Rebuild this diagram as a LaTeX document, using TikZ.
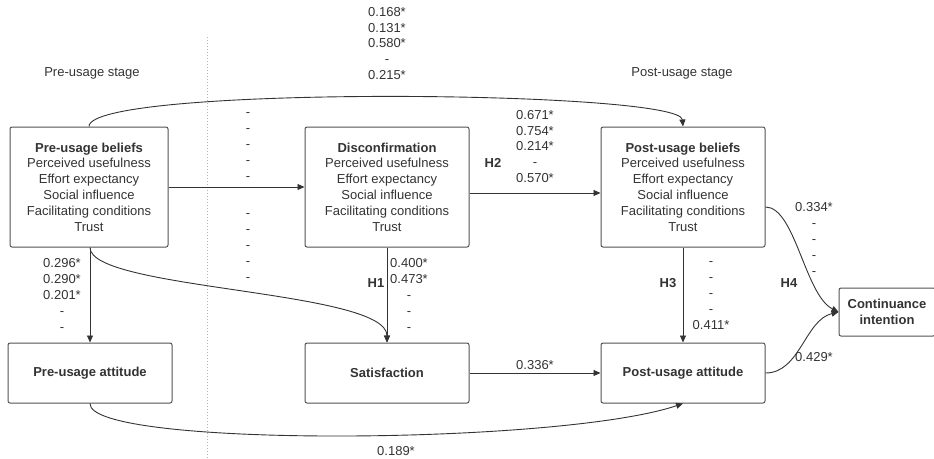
\documentclass[tikz,border=0pt]{standalone}
\usepackage{fontspec}
\setmainfont{Liberation Sans}
\usetikzlibrary{arrows.meta}
\definecolor{ink}{HTML}{333333}
\begin{document}
\begin{tikzpicture}[x=1pt,y=-1pt,font=\fontsize{13}{15.8}\selectfont,text=ink,
    box/.style={draw=ink!85,line width=1pt,rounded corners=2pt,minimum width=164pt,
      minimum height=120pt,align=center},
    smallbox/.style={box,minimum height=60pt},
    val/.style={align=center,inner sep=0pt},
    hyp/.style={inner sep=0pt,font=\fontsize{13}{15.8}\selectfont\bfseries},
    link/.style={draw=ink,line width=0.9pt,-{Triangle[length=7pt,width=6pt]}}]
  \useasboundingbox (0,0) rectangle (934,458);
  \draw[gray!60,dotted,line width=1pt] (207,37) -- (207,458);
  \node[val] (prestage) at (92,73) {Pre-usage stage};
  \node[val] (poststage) at (682,73) {Post-usage stage};
  \node[box,minimum width=158pt] (prebel) at (89,187) {\textbf{Pre-usage beliefs}\\
    Perceived usefulness\\Effort expectancy\\Social influence\\
    Facilitating conditions\\Trust};
  \node[box] (discon) at (387,187) {\textbf{Disconfirmation}\\
    Perceived usefulness\\Effort expectancy\\Social influence\\
    Facilitating conditions\\Trust};
  \node[box] (postbel) at (683,187) {\textbf{Post-usage beliefs}\\
    Perceived usefulness\\Effort expectancy\\Social influence\\
    Facilitating conditions\\Trust};
  \node[smallbox] (preatt) at (90,373) {\textbf{Pre-usage attitude}};
  \node[smallbox] (satis) at (387,373) {\textbf{Satisfaction}};
  \node[smallbox] (postatt) at (683,373) {\textbf{Post-usage attitude}};
  \node[box,minimum width=96pt,minimum height=48pt] (contint) at (887,312)
    {\textbf{Continuance}\\\textbf{intention}};
  \draw[link] (prebel) -- (discon);
  \draw[link] ([yshift=-6pt]discon.east) -- ([yshift=-6pt]postbel.west);
  \draw[link] (prebel.south -| preatt.north) -- (preatt.north);
  \draw[link] (discon) -- (satis);
  \draw[link] (postbel) -- (postatt);
  \draw[link] (satis) -- (postatt);
  \draw[link] (prebel.north) .. controls (89,85) and (680,90) .. (postbel.north);
  \draw[link] (prebel.south -| preatt.north) .. controls (90,290) and (387,290) .. (satis.north);
  \draw[link] ([yshift=-20pt]postbel.east) .. controls (795,207) and (805,295) .. (contint.west);
  \draw[link] (postatt.east) .. controls (800,373) and (805,320) .. (contint.west);
  \draw[link] (preatt.south) .. controls (88,448) and (560,445) .. (postatt.south);
  \node[val] (toplist) at (387,43.5) {0.168*\\0.131*\\0.580*\\-\\0.215*};
  \node[val] (dashesa) at (248,146.5) {-\\-\\-\\-\\-};
  \node[val] (dashesb) at (248,247.5) {-\\-\\-\\-\\-};
  \node[val] (hlist) at (535,146.5) {0.671*\\0.754*\\0.214*\\-\\0.570*};
  \node[hyp] (htwo) at (493,163) {H2};
  \node[val] (prelist) at (62,295) {0.296*\\0.290*\\0.201*\\-\\-};
  \node[hyp] (hone) at (376,283) {H1};
  \node[val] (satlist) at (409,295) {0.400*\\0.473*\\-\\-\\-};
  \node[hyp] (hthree) at (668,283) {H3};
  \node[val] (postlist) at (711,295.5) {-\\-\\-\\-\\0.411*};
  \node[hyp] (hfour) at (789,283) {H4};
  \node[val] (contlist) at (814,239) {0.334*\\-\\-\\-\\-};
  \node[val] (attval) at (814,357) {0.429*};
  \node[val] (satval) at (535,365) {0.336*};
  \node[val] (preval) at (396,451) {0.189*};
\end{tikzpicture}
\end{document}
